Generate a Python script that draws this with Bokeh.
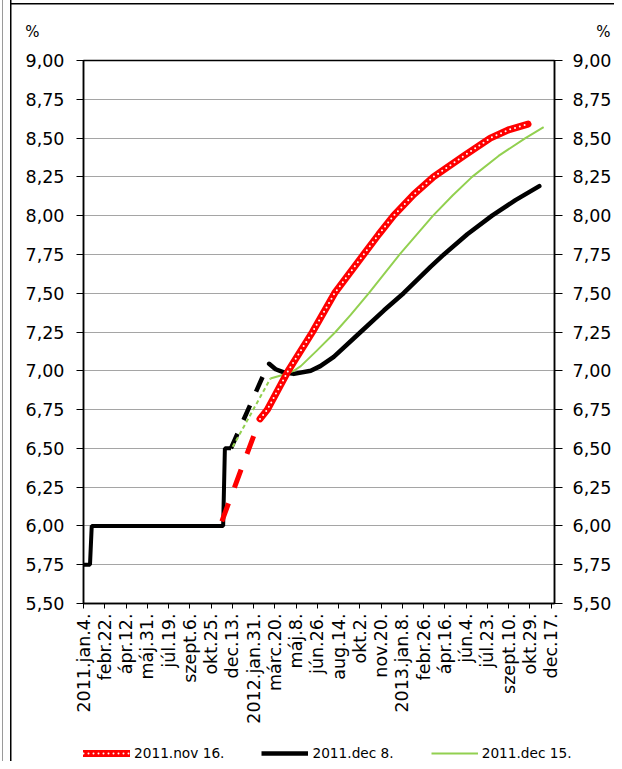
import pandas as pd
from bokeh.plotting import figure
from bokeh.layouts import column
from bokeh.models import (LinearAxis, FixedTicker, Range1d, Legend, LegendItem,
                          ColumnDataSource)
from bokeh.core.properties import value
from bokeh.embed import file_html
from bokeh.resources import INLINE

FONT = "DejaVu Sans"

# ---- axis ticks ----
tick_dates = ["2011-01-04", "2011-02-22", "2011-04-12", "2011-05-31", "2011-07-19",
              "2011-09-06", "2011-10-25", "2011-12-13", "2012-01-31", "2012-03-20",
              "2012-05-08", "2012-06-26", "2012-08-14", "2012-10-02", "2012-11-20",
              "2013-01-08", "2013-02-26", "2013-04-16", "2013-06-04", "2013-07-23",
              "2013-09-10", "2013-10-29", "2013-12-17"]
tick_labels = ["2011.jan.4.", "febr.22.", "ápr.12.", "máj.31.", "júl.19.",
               "szept.6.", "okt.25.", "dec.13.", "2012.jan.31.", "márc.20.",
               "máj.8.", "jún.26.", "aug.14.", "okt.2.", "nov.20.",
               "2013.jan.8.", "febr.26.", "ápr.16.", "jún.4.", "júl.23.",
               "szept.10.", "okt.29.", "dec.17."]
y_ticks = [5.50, 5.75, 6.00, 6.25, 6.50, 6.75, 7.00, 7.25, 7.50, 7.75,
           8.00, 8.25, 8.50, 8.75, 9.00]
y_tick_labels = ["5,50", "5,75", "6,00", "6,25", "6,50", "6,75", "7,00", "7,25",
                 "7,50", "7,75", "8,00", "8,25", "8,50", "8,75", "9,00"]
unit_labels = ["%", "%"]
x_start, x_end = "2011-01-04", "2013-12-25"

# ---- series: 2011.nov 16. (red) ----
red_dash_dates = ["2011-11-19", "2012-02-15"]
red_dash_vals = [6.03, 6.69]
red_dates = ["2012-02-15", "2012-03-03", "2012-04-20", "2012-06-15", "2012-08-05",
             "2012-10-11", "2012-11-15", "2012-12-19", "2013-02-03", "2013-03-21",
             "2013-05-30", "2013-07-30", "2013-09-12", "2013-10-25"]
red_vals = [6.69, 6.75, 7.00, 7.25, 7.50, 7.75, 7.88, 8.00, 8.135, 8.25,
            8.385, 8.50, 8.555, 8.59]

# ---- series: 2011.dec 8. (black) ----
black_hist_dates = ["2011-01-04", "2011-01-19", "2011-01-23", "2011-11-22",
                    "2011-11-26", "2011-12-10"]
black_hist_vals = [5.75, 5.75, 6.00, 6.00, 6.50, 6.50]
black_dash_dates = ["2011-12-10", "2012-02-24"]
black_dash_vals = [6.50, 6.98]
black_dates = ["2012-03-07", "2012-03-22", "2012-04-10", "2012-05-03", "2012-06-11",
               "2012-07-03", "2012-08-03", "2012-10-04", "2012-11-27", "2013-01-11",
               "2013-03-14", "2013-04-14", "2013-06-07", "2013-08-03", "2013-09-26",
               "2013-11-20"]
black_vals = [7.045, 7.01, 6.99, 6.98, 7.00, 7.03, 7.09, 7.25, 7.39, 7.50,
              7.67, 7.75, 7.88, 8.00, 8.10, 8.19]

# ---- series: 2011.dec 15. (green) ----
green_dash_dates = ["2011-12-14", "2012-03-10"]
green_dash_vals = [6.51, 6.95]
green_dates = ["2012-03-10", "2012-04-03", "2012-05-03", "2012-05-19", "2012-06-25",
               "2012-08-07", "2012-09-11", "2012-10-23", "2013-01-02", "2013-03-20",
               "2013-05-04", "2013-06-18", "2013-08-18", "2013-10-19", "2013-11-30"]
green_vals = [6.95, 6.97, 7.00, 7.03, 7.13, 7.25, 7.36, 7.50, 7.75, 8.00,
              8.13, 8.25, 8.385, 8.50, 8.57]

legend_labels = ["2011.nov 16.", "2011.dec 8.", "2011.dec 15."]

RED, BLACK, GREEN = "#FF0000", "#000000", "#92D050"


def src(dates, vals):
    return ColumnDataSource(dict(x=pd.to_datetime(dates), y=vals))


def ms(d):
    return int(pd.Timestamp(d).value // 10**6)


def bare(fig):
    try:
        fig.frame_align = False
    except Exception:
        pass
    fig.axis.visible = False
    fig.grid.visible = False
    fig.outline_line_color = None
    fig.background_fill_color = None
    fig.border_fill_color = None


W = 614
TOP_H = 48
MAIN_H = 12 + 543 + 128
BOT_H = 761 - TOP_H - MAIN_H

# ---------- top strip with the unit labels ----------
top = figure(width=W, height=TOP_H, x_range=Range1d(0, W),
             y_range=Range1d(0, TOP_H), output_backend="svg",
             toolbar_location=None, min_border=0)
bare(top)
top.text(x=[32, 603], y=[TOP_H - 31, TOP_H - 31], text=unit_labels,
         text_align="center", text_baseline="middle",
         text_font=value(FONT), text_font_size="15px", text_color="black")

# ---------- main chart ----------
p = figure(frame_width=471, frame_height=543, x_axis_type="datetime",
           x_range=Range1d(start=pd.Timestamp(x_start), end=pd.Timestamp(x_end)),
           y_range=Range1d(start=5.5, end=9.0),
           output_backend="svg", toolbar_location=None,
           min_border_left=83, min_border_right=60, min_border_top=12,
           min_border_bottom=128)
try:
    p.frame_align = False
except Exception:
    pass
p.background_fill_color = "white"
p.border_fill_color = None
p.outline_line_color = "black"
p.outline_line_width = 1.5

# x axis
tick_ms = [ms(d) for d in tick_dates]
xa = p.xaxis[0]
xa.ticker = FixedTicker(ticks=tick_ms, minor_ticks=[])
xa.major_label_overrides = {t: l for t, l in zip(tick_ms, tick_labels)}
xa.major_label_orientation = 1.5707963
xa.major_label_text_font = FONT
xa.major_label_text_font_size = "17.5px"
xa.major_label_text_color = "black"
xa.major_label_standoff = 5
xa.major_tick_out = 5
xa.major_tick_in = 0
xa.minor_tick_out = 0
xa.axis_line_color = "black"
xa.axis_line_width = 1.5
xa.major_tick_line_color = "black"


def style_y(ax, standoff, tick_out):
    ax.ticker = FixedTicker(ticks=y_ticks, minor_ticks=[])
    ax.major_label_overrides = {t: l for t, l in zip(y_ticks, y_tick_labels)}
    ax.major_label_text_font = FONT
    ax.major_label_text_font_size = "17.5px"
    ax.major_label_text_color = "black"
    ax.major_label_standoff = standoff
    ax.major_tick_out = tick_out
    ax.major_tick_in = 0
    ax.minor_tick_out = 0
    ax.axis_line_color = "black"
    ax.axis_line_width = 1.5
    ax.major_tick_line_color = "black"


style_y(p.yaxis[0], 12, 7)
ra = LinearAxis()
style_y(ra, 10, 8)
p.add_layout(ra, "right")

p.xgrid.visible = False
p.ygrid.ticker = FixedTicker(ticks=y_ticks, minor_ticks=[])
p.ygrid.grid_line_color = "#4a4a4a"
p.ygrid.grid_line_dash = "1 1"
p.ygrid.grid_line_width = 1

# black
p.line("x", "y", source=src(black_hist_dates, black_hist_vals),
       line_color=BLACK, line_width=4)
p.line("x", "y", source=src(black_dash_dates, black_dash_vals),
       line_color=BLACK, line_width=4.5, line_dash="16 15")
p.line("x", "y", source=src(black_dates, black_vals),
       line_color=BLACK, line_width=4.5, line_cap="round", line_join="round")

# green
p.line("x", "y", source=src(green_dash_dates, green_dash_vals),
       line_color=GREEN, line_width=2, line_dash="4 3")
p.line("x", "y", source=src(green_dates, green_vals),
       line_color=GREEN, line_width=2, line_join="round")

# red
p.line("x", "y", source=src(red_dash_dates, red_dash_vals),
       line_color=RED, line_width=5, line_dash="19 17")
p.line("x", "y", source=src(red_dates, red_vals),
       line_color=RED, line_width=7, line_cap="round", line_join="round")
p.line("x", "y", source=src(red_dates, red_vals),
       line_color="white", line_width=2, line_dash="0 5", line_cap="round")

# ---------- bottom strip with the legend ----------
bot = figure(width=W, height=BOT_H, x_range=Range1d(0, 1), y_range=Range1d(0, 1),
             output_backend="svg", toolbar_location=None, min_border=0)
bare(bot)


def proxy():
    # legend proxies: off-range points, never visible inside the strip
    return ColumnDataSource(dict(x=[-10, -9], y=[-10, -10]))


l_red = bot.line("x", "y", source=proxy(), line_color=RED, line_width=7,
                 line_cap="round")
l_dot = bot.line("x", "y", source=proxy(), line_color="white", line_width=2,
                 line_dash="0 5", line_cap="round")
l_blk = bot.line("x", "y", source=proxy(), line_color=BLACK, line_width=4.5)
l_grn = bot.line("x", "y", source=proxy(), line_color=GREEN, line_width=2)
legend = Legend(items=[LegendItem(label=legend_labels[0], renderers=[l_red, l_dot]),
                       LegendItem(label=legend_labels[1], renderers=[l_blk]),
                       LegendItem(label=legend_labels[2], renderers=[l_grn])],
                orientation="horizontal", location=(83, 0),
                padding=0, margin=0, spacing=37, glyph_width=47, glyph_height=16,
                label_standoff=4, label_text_font=FONT, label_text_font_size="13.7px",
                label_text_color="black", border_line_color=None,
                background_fill_alpha=0)
bot.add_layout(legend, "center")

layout = column(top, p, bot, spacing=0)
layout.styles = {
    "background-color": "white",
    "background-image": "linear-gradient(#9a9a9a,#9a9a9a),"
                        "linear-gradient(#000,#000),linear-gradient(#000,#000)",
    "background-size": "1px 100%, 1.5px 100%, 100% 1.5px",
    "background-position": "2px 0px, 10px 0px, 10px 3px",
    "background-repeat": "no-repeat",
}

open("out.html", "w").write(file_html(layout, INLINE))
